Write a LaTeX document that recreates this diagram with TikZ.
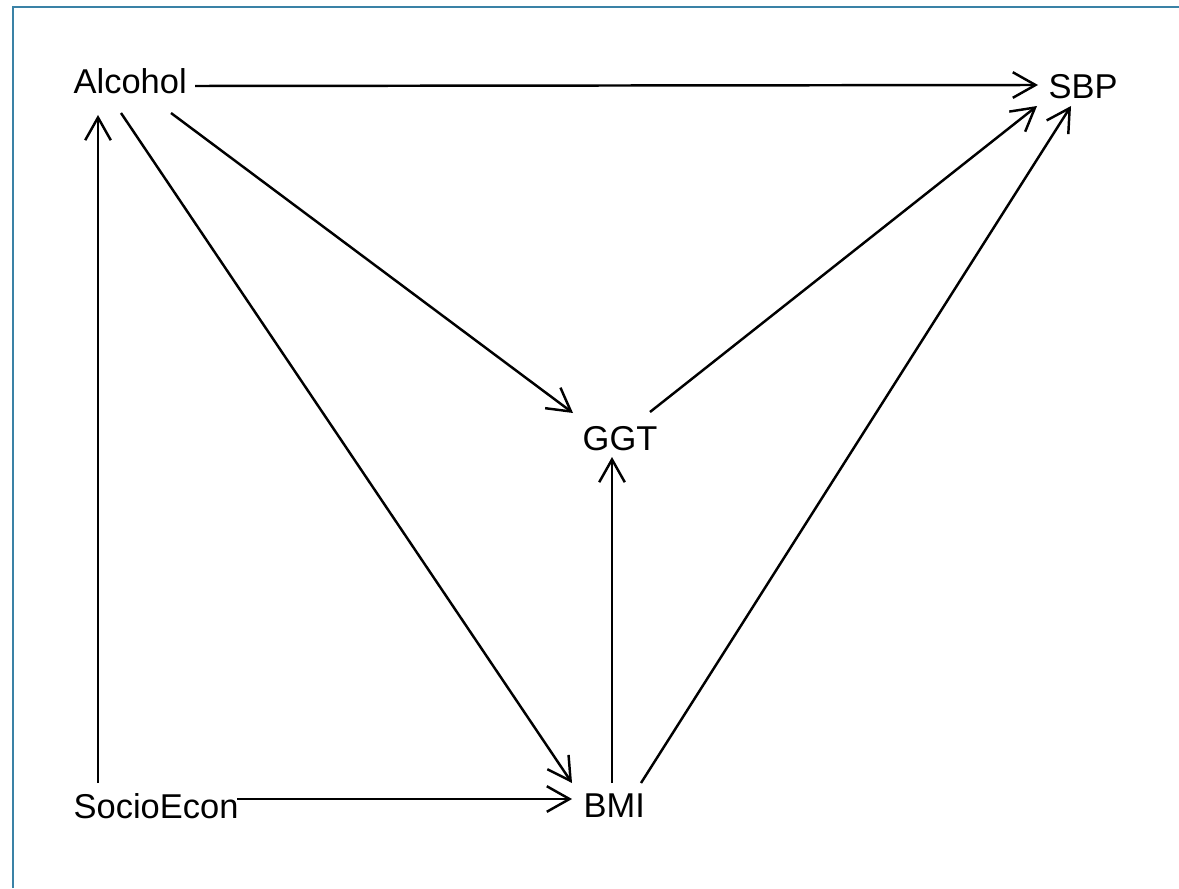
\documentclass[tikz,border=0pt]{standalone}
\usepackage{fontspec}
\setmainfont{Liberation Sans}
\usetikzlibrary{arrows.meta,calc}
\definecolor{framecol}{HTML}{3A82A6}
\tikzset{
  lbl/.style={inner sep=0pt, anchor=base west, font=\fontsize{9.8pt}{12pt}\selectfont},
  arr/.style={line width=0.7pt, -{Straight Barb[length=0.227cm, width=0.256cm, line width=0.7pt]}},
  frameline/.style={draw=framecol, line width=0.6pt}
}
\begin{document}
\begin{tikzpicture}[x=0.01cm, y=-0.01cm]
\useasboundingbox (0,0) rectangle (1179,888);
\fill[white] (0,0) rectangle (1179,888);
\draw[frameline] (13,888) -- (13,7) -- (1179,7);

\node[lbl] (alc) at (73,94) {Alcohol};
\node[lbl] (sbp) at (1048,99) {SBP};
\node[lbl] (ggt) at (582,450) {GGT};
\node[lbl] (bmi) at (583,817) {BMI};
\node[lbl] (soc) at (73,818) {SocioEcon};

\draw[arr] ($(alc.base west)+(122,-8)$) -- ($(sbp.base west)+(-10,-14)$);
\draw[arr] ($(soc.base west)+(25,-35)$) -- ($(alc.base west)+(25,21)$);
\draw[arr] ($(alc.base west)+(98,19)$) -- ($(ggt.base west)+(-9,-37)$);
\draw[arr] ($(alc.base west)+(48,19)$) -- ($(bmi.base west)+(-11,-34)$);
\draw[arr] ($(ggt.base west)+(68,-38)$) -- ($(sbp.base west)+(-11,7)$);
\draw[arr] ($(bmi.base west)+(58,-34)$) -- ($(sbp.base west)+(23,7)$);
\draw[arr] ($(bmi.base west)+(29,-34)$) -- ($(ggt.base west)+(30,7)$);
\draw[arr] ($(soc.base west)+(164,-19)$) -- ($(bmi.base west)+(-11,-18)$);
\end{tikzpicture}
\end{document}
